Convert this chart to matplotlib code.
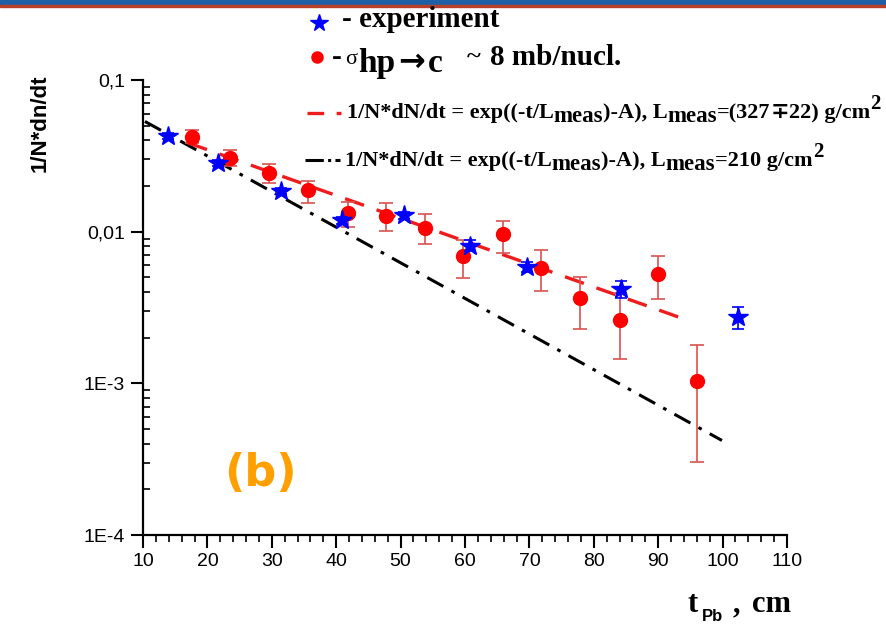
import matplotlib
matplotlib.use("Agg")
import matplotlib.pyplot as plt
import numpy as np
from matplotlib.ticker import MultipleLocator, LogLocator, NullFormatter
from matplotlib.lines import Line2D

# ---- data ----
exp_t = [13.9, 21.7, 31.5, 40.9, 50.5, 60.8, 69.7, 84.3, 102.4]
exp_y = [0.0429, 0.0283, 0.0185, 0.0119, 0.0128, 0.0080, 0.00585, 0.00416, 0.00273]
exp_lo = [0.0410, 0.0270, 0.0177, 0.0113, 0.0122, 0.0074, 0.00545, 0.00368, 0.00229]
exp_hi = [0.0448, 0.0296, 0.0193, 0.0125, 0.0134, 0.0088, 0.00630, 0.00472, 0.00318]

sim_t = [17.6, 23.5, 29.6, 35.6, 41.8, 47.7, 53.8, 59.7, 65.9, 71.8, 77.9, 84.0, 89.9, 96.0]
sim_y = [0.0418, 0.0305, 0.0243, 0.01875, 0.0133, 0.0127, 0.0106, 0.00688, 0.00958,
         0.0058, 0.00367, 0.00262, 0.00529, 0.00104]
sim_lo = [0.0384, 0.0269, 0.0208, 0.0155, 0.01076, 0.01012, 0.00826, 0.00497, 0.00724,
          0.00406, 0.00229, 0.00145, 0.00361, 0.000302]
sim_hi = [0.0466, 0.0343, 0.0279, 0.0217, 0.01575, 0.01538, 0.01306, 0.00879, 0.01179,
          0.00754, 0.00502, 0.00392, 0.00691, 0.00179]

fit327_t = [17.0, 94.4]
fit327_y = [0.0385, 0.00262]
fit210_t = [10.3, 99.9]
fit210_y = [0.0533, 0.00042]

xticks = [10, 20, 30, 40, 50, 60, 70, 80, 90, 100, 110]
yticks = [1e-4, 1e-3, 1e-2, 1e-1]
ytick_labels = ['1E-4', '1E-3', '0,01', '0,1']

W, H = 887, 624
fig = plt.figure(figsize=(W / 100, H / 100), dpi=100)
renderer = fig.canvas.get_renderer()
SERIF = ['Liberation Serif', 'DejaVu Serif']


def fp(x, y):
    return x / W, 1 - y / H


def seq(x, ybase, pieces):
    """Draw text pieces one after another; each piece: (text, size, weight, family, dy)."""
    for txt, size, weight, fam, dy in pieces:
        t = fig.text(*fp(x, ybase + dy), txt, fontsize=size, fontweight=weight,
                     family=fam, va='baseline', ha='left')
        x += t.get_window_extent(renderer).width
    return x


# top decorative bar
fig.patches.append(plt.Rectangle((0, 1 - 5 / H), 1, 5 / H, transform=fig.transFigure,
                                 color='#1f5fa6', zorder=0))
fig.patches.append(plt.Rectangle((0, 1 - 7 / H), 1, 2 / H, transform=fig.transFigure,
                                 color='#b8402a', zorder=0))

ax = fig.add_axes([143 / W, 89 / H, 644 / W, 455 / H])
ax.set_yscale('log')
ax.set_xlim(10, 110)
ax.set_ylim(1e-4, 0.1)
for s in ['top', 'right']:
    ax.spines[s].set_visible(False)
for s in ['left', 'bottom']:
    ax.spines[s].set_linewidth(1.6)

ax.set_xticks(xticks)
ax.set_xticklabels([str(v) for v in xticks])
ax.xaxis.set_minor_locator(MultipleLocator(2))
ax.set_yticks(yticks)
ax.set_yticklabels(ytick_labels)
ax.yaxis.set_minor_locator(LogLocator(base=10, subs=np.arange(2, 10)))
ax.yaxis.set_minor_formatter(NullFormatter())
ax.tick_params(which='major', direction='out', length=9, width=1.5, labelsize=14, pad=4)
ax.tick_params(axis='y', which='minor', direction='in', length=5, width=1.2)
ax.tick_params(axis='x', which='minor', direction='out', length=5, width=1.2)
for lab in ax.get_xticklabels() + ax.get_yticklabels():
    lab.set_family('Liberation Sans')

# fit lines
ax.plot(fit210_t, fit210_y, color='black', lw=2.2, dashes=(6, 3, 1.2, 3), zorder=2)
ax.plot(fit327_t, fit327_y, color='#ee1c1c', lw=2.4, dashes=(6, 4), zorder=2)

# simulation points (red)
sim_y_a = np.array(sim_y)
sim_err = [sim_y_a - np.array(sim_lo), np.array(sim_hi) - sim_y_a]
ax.errorbar(sim_t, sim_y, yerr=sim_err, fmt='o', color='#ff0000', ms=10,
            ecolor='#d9534f', elinewidth=1.2, capsize=5, capthick=1.2, zorder=3)

# experiment points (blue stars)
exp_y_a = np.array(exp_y)
exp_err = [exp_y_a - np.array(exp_lo), np.array(exp_hi) - exp_y_a]
ax.errorbar(exp_t, exp_y, yerr=exp_err, fmt='*', color='#0000ff', ms=15,
            ecolor='#0000ff', elinewidth=1.2, capsize=4, capthick=1.2, zorder=4)

# (b) label
fig.text(*fp(260, 474), '(b)', color='#ffa000', fontsize=32, fontweight='bold',
         family='DejaVu Sans', ha='center', va='center')

# y axis label
fig.text(*fp(40, 123), '1/N*dn/dt', rotation=90, fontsize=16, fontweight='bold',
         family='Liberation Sans', ha='center', va='center')

# x axis label
seq(688, 612, [('t', 22, 'bold', SERIF, 0)])
seq(702, 621, [('Pb', 12, 'bold', 'Liberation Sans', 0)])
seq(733, 612, [(',', 22, 'bold', SERIF, 0)])
seq(752, 612, [('cm', 22, 'bold', SERIF, 0)])

# top legend
fig.lines.append(Line2D([319 / W], [1 - 23 / H], marker='*', color='#0000ff', ms=13,
                        transform=fig.transFigure))
seq(342, 27, [('- experiment', 21, 'bold', SERIF, 0)])

fig.lines.append(Line2D([317 / W], [1 - 57 / H], marker='o', color='#ff0000', ms=8,
                        transform=fig.transFigure))
seq(332, 65, [('-', 21, 'bold', SERIF, 0)])
seq(345, 64, [('σ', 16, 'normal', SERIF, 0)])
x = seq(358, 72, [('hp', 24, 'bold', SERIF, 0)])
x = seq(x + 3, 71, [('→', 23, 'bold', ['DejaVu Sans'], 0)])
seq(x + 3, 72, [('c', 24, 'bold', SERIF, 0)])
seq(467, 63, [('~', 19, 'bold', SERIF, 0)])
seq(490, 65, [('8 mb/nucl.', 21, 'bold', SERIF, 0)])

# fit legends
fig.lines.append(Line2D([307 / W, 341 / W], [1 - 113 / H, 1 - 113 / H], color='#ee1c1c', lw=2.4,
                        dashes=(5, 3.75), transform=fig.transFigure))
seq(347, 118, [('1/N*dN/dt = exp((-t/L', 16, 'bold', SERIF, 0),
               ('meas', 16.5, 'bold', SERIF, 4),
               (')-A), L', 16, 'bold', SERIF, 0),
               ('meas', 16.5, 'bold', SERIF, 4),
               ('=(327', 16, 'bold', SERIF, 0),
               ('∓', 16, 'bold', ['DejaVu Serif'], 0),
               ('22) g/cm', 16, 'bold', SERIF, 0),
               ('2', 15, 'bold', SERIF, -9)])
fig.lines.append(Line2D([305 / W, 340 / W], [1 - 160 / H, 1 - 160 / H], color='black', lw=2.2,
                        dashes=(6, 1.4, 1, 1.4), transform=fig.transFigure))
seq(345, 166, [('1/N*dN/dt = exp((-t/L', 16, 'bold', SERIF, 0),
               ('meas', 16.5, 'bold', SERIF, 4),
               (')-A), L', 16, 'bold', SERIF, 0),
               ('meas', 16.5, 'bold', SERIF, 4),
               ('=210 g/cm', 16, 'bold', SERIF, 0),
               ('2', 15, 'bold', SERIF, -9)])

fig.savefig('out.png', dpi=100)
